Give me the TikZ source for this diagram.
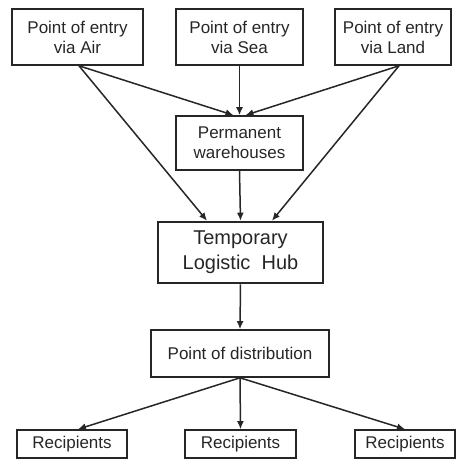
\documentclass[tikz,border=0pt]{standalone}
\usepackage{fontspec}
\setmainfont{Liberation Sans}
\usetikzlibrary{arrows.meta,calc}
\definecolor{ink}{HTML}{262626}
\begin{document}
\begin{tikzpicture}[x=1pt,y=-1pt,
  box/.style={draw=ink,line width=1.6pt,text=ink,align=center,inner sep=0pt,
    font=\fontsize{17}{20}\selectfont},
  hubbox/.style={box,line width=2.6pt,font=\fontsize{20}{25}\selectfont},
  arr/.style={draw=ink,line width=1.5pt,-{Latex[length=8pt,width=7pt]}}]
\useasboundingbox (0,0) rectangle (459,459);
\node[box,minimum width=131pt,minimum height=56pt] (air) at (77.5,37) {Point of entry\\via Air};
\node[box,minimum width=127pt,minimum height=56pt] (sea) at (239.5,37) {Point of entry\\via Sea};
\node[box,minimum width=116pt,minimum height=56pt] (land) at (393,37) {Point of entry\\via Land};
\node[box,minimum width=127pt,minimum height=54pt] (wh) at (239.5,143) {Permanent\\warehouses};
\node[hubbox,minimum width=165pt,minimum height=61pt] (hub) at (240.5,252.5) {Temporary\\Logistic\ \ Hub};
\node[box,minimum width=178pt,minimum height=47pt] (dist) at (240,353.5) {Point of distribution};
\node[box,minimum width=110pt,minimum height=28pt] (r1) at (72,444) {Recipients};
\node[box,minimum width=111pt,minimum height=28pt] (r2) at (240.5,444) {Recipients};
\node[box,minimum width=100pt,minimum height=28pt] (r3) at (405,444) {Recipients};
\coordinate (airout) at ($(air.south)+(1.5,0)$);
\coordinate (landout) at ($(land.south)+(6,0)$);
\draw[arr] (airout) -- ($(wh.north)+(-6,0)$);
\draw[arr] (airout) -- ($(hub.north)+(-33.5,0)$);
\draw[arr] (sea.south) -- (wh.north);
\draw[arr] (landout) -- ($(wh.north)+(6,0)$);
\draw[arr] (landout) -- ($(hub.north)+(31.5,0)$);
\draw[arr] (wh.south) -- (hub.north);
\draw[arr] (hub.south) -- (dist.north);
\draw[arr] (dist.south) -- ($(r1.north)+(6,0)$);
\draw[arr] (dist.south) -- (r2.north);
\draw[arr] (dist.south) -- (r3.north);
\end{tikzpicture}
\end{document}
